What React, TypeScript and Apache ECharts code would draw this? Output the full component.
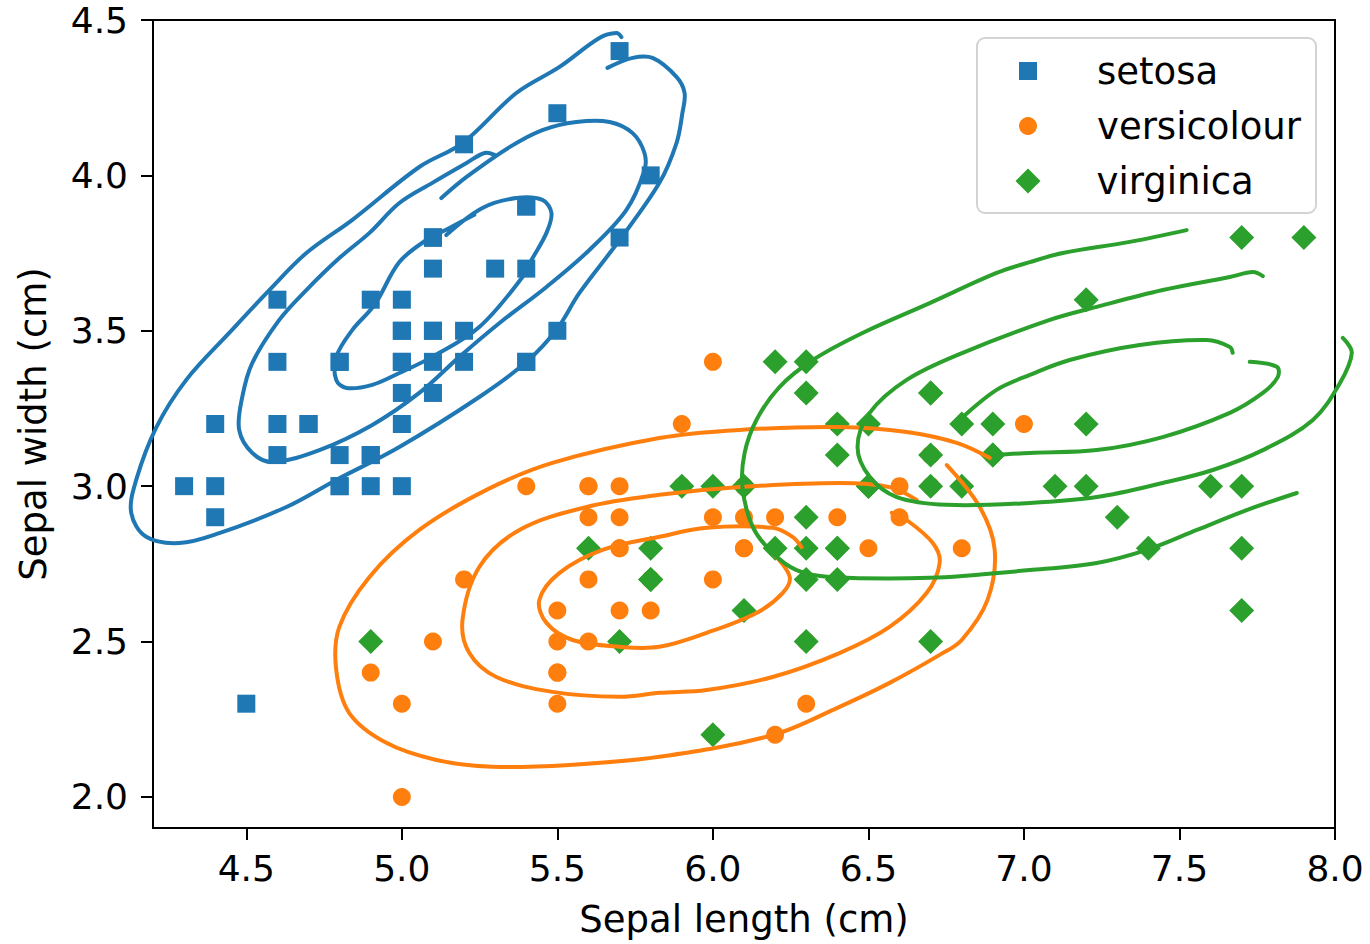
import React, { useEffect, useRef } from 'react';
import * as echarts from 'echarts';

const FONT = "'DejaVu Sans', sans-serif";
const BLUE = '#1f77b4';
const ORANGE = '#ff7f0e';
const GREEN = '#2ca02c';

const xTicks = [4.5, 5.0, 5.5, 6.0, 6.5, 7.0, 7.5, 8.0];
const yTicks = [2.0, 2.5, 3.0, 3.5, 4.0, 4.5];

const speciesNames = ['setosa', 'versicolour', 'virginica'];

const setosaLength = [5.1, 4.9, 4.7, 4.6, 5.0, 5.4, 4.6, 5.0, 4.4, 4.9, 5.4, 4.8, 4.8, 4.3, 5.8, 5.7, 5.4, 5.1, 5.7, 5.1, 5.4, 5.1, 4.6, 5.1, 4.8, 5.0, 5.0, 5.2, 5.2, 4.7, 4.8, 5.4, 5.2, 5.5, 4.9, 5.0, 5.5, 4.9, 4.4, 5.1, 5.0, 4.5, 4.4, 5.0, 5.1, 4.8, 5.1, 4.6, 5.3, 5.0];
const setosaWidth = [3.5, 3.0, 3.2, 3.1, 3.6, 3.9, 3.4, 3.4, 2.9, 3.1, 3.7, 3.4, 3.0, 3.0, 4.0, 4.4, 3.9, 3.5, 3.8, 3.8, 3.4, 3.7, 3.6, 3.3, 3.4, 3.0, 3.4, 3.5, 3.4, 3.2, 3.1, 3.4, 4.1, 4.2, 3.1, 3.2, 3.5, 3.6, 3.0, 3.4, 3.5, 2.3, 3.2, 3.5, 3.8, 3.0, 3.8, 3.2, 3.7, 3.3];

const versicolourLength = [7.0, 6.4, 6.9, 5.5, 6.5, 5.7, 6.3, 4.9, 6.6, 5.2, 5.0, 5.9, 6.0, 6.1, 5.6, 6.7, 5.6, 5.8, 6.2, 5.6, 5.9, 6.1, 6.3, 6.1, 6.4, 6.6, 6.8, 6.7, 6.0, 5.7, 5.5, 5.5, 5.8, 6.0, 5.4, 6.0, 6.7, 6.3, 5.6, 5.5, 5.5, 6.1, 5.8, 5.0, 5.6, 5.7, 5.7, 6.2, 5.1, 5.7];
const versicolourWidth = [3.2, 3.2, 3.1, 2.3, 2.8, 2.8, 3.3, 2.4, 2.9, 2.7, 2.0, 3.0, 2.2, 2.9, 2.9, 3.1, 3.0, 2.7, 2.2, 2.5, 3.2, 2.8, 2.5, 2.8, 2.9, 3.0, 2.8, 3.0, 2.9, 2.6, 2.4, 2.4, 2.7, 2.7, 3.0, 3.4, 3.1, 2.3, 3.0, 2.5, 2.6, 3.0, 2.6, 2.3, 2.7, 3.0, 2.9, 2.9, 2.5, 2.8];

const virginicaLength = [6.3, 5.8, 7.1, 6.3, 6.5, 7.6, 4.9, 7.3, 6.7, 7.2, 6.5, 6.4, 6.8, 5.7, 5.8, 6.4, 6.5, 7.7, 7.7, 6.0, 6.9, 5.6, 7.7, 6.3, 6.7, 7.2, 6.2, 6.1, 6.4, 7.2, 7.4, 7.9, 6.4, 6.3, 6.1, 7.7, 6.3, 6.4, 6.0, 6.9, 6.7, 6.9, 5.8, 6.8, 6.7, 6.7, 6.3, 6.5, 6.2, 5.9];
const virginicaWidth = [3.3, 2.7, 3.0, 2.9, 3.0, 3.0, 2.5, 2.9, 2.5, 3.6, 3.2, 2.7, 3.0, 2.5, 2.8, 3.2, 3.0, 3.8, 2.6, 2.2, 3.2, 2.8, 2.8, 2.7, 3.3, 3.2, 2.8, 3.0, 2.8, 3.0, 2.8, 3.8, 2.8, 2.8, 2.6, 3.0, 3.4, 3.1, 3.0, 3.1, 3.1, 3.1, 2.7, 3.2, 3.3, 3.0, 2.5, 3.0, 3.4, 3.0];

// Density contour traces (sepal length, sepal width)
const setosaOuter = [[5.706, 4.445], [5.69, 4.458], [5.635, 4.442], [5.507, 4.349], [5.368, 4.265], [5.195, 4.104], [5.056, 4.027], [4.841, 3.857], [4.693, 3.75], [4.574, 3.631], [4.445, 3.493], [4.307, 3.342], [4.211, 3.19], [4.146, 3.02], [4.13, 2.914], [4.178, 2.837], [4.285, 2.817], [4.413, 2.849], [4.629, 2.933], [4.789, 3.02], [4.992, 3.126], [5.249, 3.287], [5.401, 3.4], [5.497, 3.503], [5.571, 3.622], [5.7, 3.792], [5.828, 3.976], [5.883, 4.104], [5.902, 4.201], [5.909, 4.265], [5.883, 4.317], [5.806, 4.378], [5.742, 4.378], [5.661, 4.346]];
const setosaMiddle = [[5.127, 3.927], [5.208, 3.995], [5.346, 4.091], [5.452, 4.146], [5.561, 4.172], [5.668, 4.172], [5.742, 4.136], [5.78, 4.072], [5.78, 4.017], [5.722, 3.889], [5.603, 3.76], [5.465, 3.641], [5.314, 3.525], [5.185, 3.416], [5.056, 3.3], [4.905, 3.197], [4.735, 3.116], [4.584, 3.078], [4.519, 3.107], [4.477, 3.181], [4.487, 3.287], [4.519, 3.396], [4.606, 3.535], [4.693, 3.631], [4.799, 3.734], [4.896, 3.815], [4.992, 3.911], [5.098, 3.976], [5.208, 4.04], [5.266, 4.072], [5.298, 4.066]];
const setosaInner = [[5.143, 3.808], [5.259, 3.895], [5.368, 3.927], [5.452, 3.921], [5.481, 3.879], [5.465, 3.815], [5.417, 3.728], [5.388, 3.673], [5.249, 3.512], [5.098, 3.416], [4.992, 3.364], [4.905, 3.326], [4.822, 3.316], [4.789, 3.342], [4.789, 3.416], [4.841, 3.503], [4.912, 3.583], [4.992, 3.721], [5.079, 3.792], [5.153, 3.831], [5.233, 3.873]];

const versicolourOuter = [[6.752, 3.068], [6.858, 2.933], [6.906, 2.795], [6.883, 2.634], [6.8, 2.505], [6.729, 2.457], [6.568, 2.367], [6.407, 2.29], [6.192, 2.199], [5.828, 2.129], [5.539, 2.103], [5.291, 2.097], [5.111, 2.119], [4.95, 2.174], [4.831, 2.27], [4.789, 2.409], [4.799, 2.547], [4.896, 2.708], [5.056, 2.859], [5.272, 2.988], [5.484, 3.075], [5.828, 3.155], [6.086, 3.181], [6.407, 3.19], [6.623, 3.174], [6.784, 3.139], [6.89, 3.091]];
const versicolourMiddle = [[6.575, 2.914], [6.623, 2.891], [6.707, 2.817], [6.729, 2.753], [6.687, 2.656], [6.568, 2.547], [6.407, 2.463], [6.192, 2.386], [5.98, 2.344], [5.828, 2.335], [5.7, 2.322], [5.484, 2.338], [5.304, 2.386], [5.217, 2.463], [5.195, 2.569], [5.249, 2.74], [5.378, 2.859], [5.594, 2.933], [5.828, 2.972], [6.086, 2.997], [6.407, 3.01], [6.568, 2.997], [6.655, 2.956]];
const versicolourInner = [[6.198, 2.779], [6.247, 2.708], [6.224, 2.656], [6.14, 2.592], [5.98, 2.528], [5.828, 2.483], [5.7, 2.483], [5.549, 2.505], [5.465, 2.56], [5.442, 2.634], [5.507, 2.721], [5.645, 2.795], [5.828, 2.837], [5.98, 2.866], [6.192, 2.866], [6.256, 2.837], [6.285, 2.804]];

const virginicaOuter = [[7.523, 3.824], [7.34, 3.786], [7.125, 3.75], [7.019, 3.721], [6.912, 3.686], [6.697, 3.589], [6.481, 3.493], [6.321, 3.406], [6.214, 3.319], [6.14, 3.213], [6.102, 3.107], [6.095, 2.997], [6.128, 2.869], [6.192, 2.785], [6.269, 2.73], [6.375, 2.708], [6.697, 2.705], [7.019, 2.73], [7.234, 2.753], [7.395, 2.795], [7.556, 2.859], [7.716, 2.923], [7.877, 2.978]];
const virginicaMiddle = [[7.768, 3.676], [7.736, 3.689], [7.662, 3.673], [7.446, 3.631], [7.234, 3.577], [7.083, 3.535], [6.803, 3.429], [6.623, 3.342], [6.504, 3.236], [6.465, 3.126], [6.504, 3.03], [6.591, 2.965], [6.752, 2.94], [7.019, 2.946], [7.234, 2.965], [7.446, 3.01], [7.607, 3.052], [7.768, 3.116], [7.929, 3.213], [8.016, 3.332], [8.054, 3.429], [8.025, 3.477]];
const virginicaInnerTop = [[7.671, 3.429], [7.662, 3.448], [7.588, 3.47], [7.372, 3.454], [7.147, 3.406], [7.019, 3.358], [6.912, 3.31], [6.793, 3.213]];
const virginicaInnerBottom = [[7.726, 3.4], [7.813, 3.384], [7.816, 3.351], [7.768, 3.3], [7.662, 3.236], [7.446, 3.158], [7.234, 3.116], [7.019, 3.107], [6.9, 3.1]];

const contourSets = [
  { color: BLUE, lines: [setosaOuter, setosaMiddle, setosaInner] },
  { color: ORANGE, lines: [versicolourOuter, versicolourMiddle, versicolourInner] },
  { color: GREEN, lines: [virginicaOuter, virginicaMiddle, virginicaInnerTop, virginicaInnerBottom] },
];

const zip = (xs: number[], ys: number[]) => xs.map((x, i) => [x, ys[i]]);

const contourSeries = (set: { color: string; lines: number[][][] }, k: number) => ({
  type: 'custom',
  name: 'contour-' + k,
  coordinateSystem: 'cartesian2d',
  silent: true,
  clip: false,
  z: 3,
  encode: { x: 0, y: 1 },
  data: set.lines.map((l, i) => [l[0][0], l[0][1], i]),
  renderItem: (params: any, api: any) => {
    const line = set.lines[api.value(2)];
    const points = line.map((p) => api.coord(p));
    return {
      type: 'polyline',
      shape: { points, smooth: 0.35 },
      style: { stroke: set.color, lineWidth: 4, fill: null, lineCap: 'round', lineJoin: 'round' },
    };
  },
});

const legendRow = (name: string, icon: string, size: number, center: number, pad: number) => ({
  data: [name],
  icon,
  orient: 'vertical',
  left: 1028 - size / 2,
  top: center - 21,
  padding: 0,
  itemWidth: size,
  itemHeight: size,
  selectedMode: false,
  z: 5,
  textStyle: {
    fontFamily: FONT,
    fontSize: 37,
    color: '#000',
    lineHeight: 42,
    padding: [0, 0, 0, pad],
  },
});

export default function App() {
  const ref = useRef<HTMLDivElement>(null);
  useEffect(() => {
    document.body.style.margin = '0';
    const chart = echarts.init(ref.current!, null, { renderer: 'svg' });
    const axisCommon = {
      type: 'value',
      axisLine: { show: true, lineStyle: { color: '#000', width: 2 } },
      splitLine: { show: false },
      nameTextStyle: { fontFamily: FONT, fontSize: 37, color: '#000' },
      nameLocation: 'middle',
    };
    chart.setOption({
      animation: false,
      backgroundColor: '#fff',
      grid: {
        left: 153,
        right: 35,
        top: 20,
        bottom: 116,
        show: true,
        borderColor: '#000',
        borderWidth: 2,
        backgroundColor: 'transparent',
      },
      xAxis: {
        ...axisCommon,
        min: 4.2,
        max: 8.0,
        name: 'Sepal length (cm)',
        nameGap: 73,
        axisTick: { show: true, inside: false, length: 12, lineStyle: { color: '#000', width: 2 }, customValues: xTicks },
        axisLabel: {
          fontFamily: FONT,
          fontSize: 36,
          color: '#000',
          margin: 22,
          customValues: xTicks,
          formatter: (v: number) => v.toFixed(1),
        },
      },
      yAxis: {
        ...axisCommon,
        min: 1.9,
        max: 4.5,
        name: 'Sepal width (cm)',
        nameGap: 101,
        axisTick: { show: true, inside: false, length: 12, lineStyle: { color: '#000', width: 2 }, customValues: yTicks },
        axisLabel: {
          fontFamily: FONT,
          fontSize: 36,
          color: '#000',
          margin: 25,
          customValues: yTicks,
          formatter: (v: number) => v.toFixed(1),
        },
      },
      legend: [
        legendRow(speciesNames[0], 'rect', 18, 71, 55),
        legendRow(speciesNames[1], 'circle', 18, 126, 55),
        legendRow(speciesNames[2], 'diamond', 25, 181, 51),
      ],
      graphic: [
        {
          type: 'rect',
          z: 4,
          shape: { x: 977, y: 38, width: 339, height: 175, r: 8 },
          style: { fill: 'rgba(255,255,255,0.8)', stroke: '#d3d3d3', lineWidth: 2 },
        },
      ],
      series: [
        {
          type: 'scatter',
          name: speciesNames[0],
          symbol: 'rect',
          symbolSize: 18,
          itemStyle: { color: BLUE, opacity: 1 },
          data: zip(setosaLength, setosaWidth),
          z: 2,
        },
        {
          type: 'scatter',
          name: speciesNames[1],
          symbol: 'circle',
          symbolSize: 18,
          itemStyle: { color: ORANGE, opacity: 1 },
          data: zip(versicolourLength, versicolourWidth),
          z: 2,
        },
        {
          type: 'scatter',
          name: speciesNames[2],
          symbol: 'diamond',
          symbolSize: 25,
          itemStyle: { color: GREEN, opacity: 1 },
          data: zip(virginicaLength, virginicaWidth),
          z: 2,
        },
        ...contourSets.map(contourSeries),
      ],
    });
    return () => chart.dispose();
  }, []);
  return <div ref={ref} style={{ width: 1370, height: 944 }} />;
}
